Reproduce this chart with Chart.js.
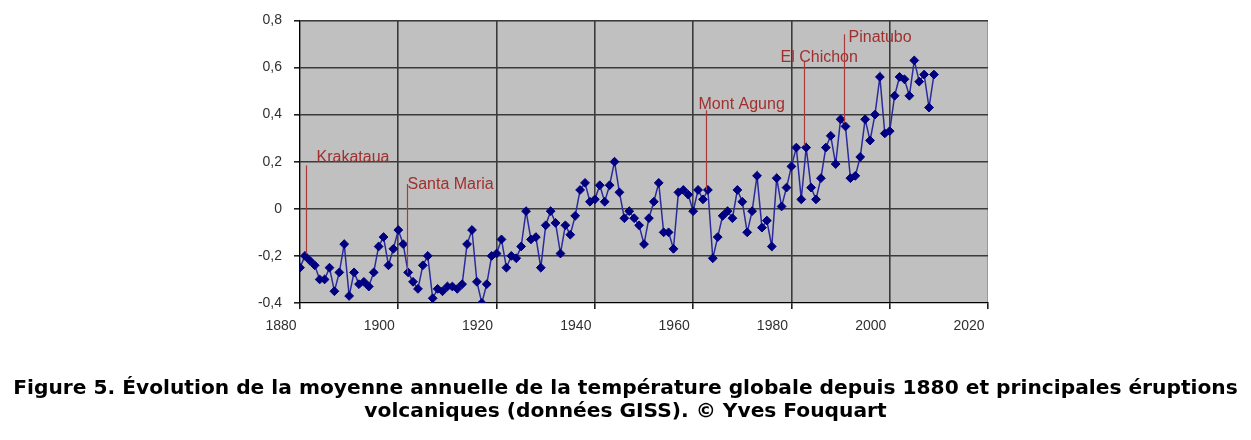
<!DOCTYPE html>
<html>
<head>
<meta charset="utf-8">
<script src="https://cdn.jsdelivr.net/npm/chart.js@4"></script>
<style>
  html, body { margin: 0; padding: 0; background: #ffffff; }
  #wrap { position: relative; width: 1251px; height: 440px; overflow: hidden; }
  #c { position: absolute; left: 0; top: 0; }
  #caption {
    position: absolute; left: 0; top: 376px; width: 1251px;
    text-align: center; font-family: "DejaVu Sans", Verdana, sans-serif;
    font-weight: bold; font-size: 20.2px; line-height: 23px; color: #000;
    white-space: nowrap;
  }
</style>
</head>
<body>
<div id="wrap">
  <canvas id="c" width="1251" height="440"></canvas>
  <div id="caption">Figure 5. Évolution de la moyenne annuelle de la température globale depuis 1880 et principales éruptions<br>volcaniques (données GISS). © Yves Fouquart</div>
</div>
<script>
// ---- data ----
const years = [];
for (let y = 1880; y <= 2009; y++) years.push(y);

const anomalies = [
  -0.25, -0.20, -0.22, -0.24, -0.30, -0.30, -0.25, -0.35, -0.27, -0.15,
  -0.37, -0.27, -0.32, -0.31, -0.33, -0.27, -0.16, -0.12, -0.24, -0.17,
  -0.09, -0.15, -0.27, -0.31, -0.34, -0.24, -0.20, -0.38, -0.34, -0.35,
  -0.33, -0.33, -0.34, -0.32, -0.15, -0.09, -0.31, -0.40, -0.32, -0.20,
  -0.19, -0.13, -0.25, -0.20, -0.21, -0.16, -0.01, -0.13, -0.12, -0.25,
  -0.07, -0.01, -0.06, -0.19, -0.07, -0.11, -0.03,  0.08,  0.11,  0.03,
   0.04,  0.10,  0.03,  0.10,  0.20,  0.07, -0.04, -0.01, -0.04, -0.07,
  -0.15, -0.04,  0.03,  0.11, -0.10, -0.10, -0.17,  0.07,  0.08,  0.06,
  -0.01,  0.08,  0.04,  0.08, -0.21, -0.12, -0.03, -0.01, -0.04,  0.08,
   0.03, -0.10, -0.01,  0.14, -0.08, -0.05, -0.16,  0.13,  0.01,  0.09,
   0.18,  0.26,  0.04,  0.26,  0.09,  0.04,  0.13,  0.26,  0.31,  0.19,
   0.38,  0.35,  0.13,  0.14,  0.22,  0.38,  0.29,  0.40,  0.56,  0.32,
   0.33,  0.48,  0.56,  0.55,  0.48,  0.63,  0.54,  0.57,  0.43,  0.57
];

const xTicks = [1880, 1900, 1920, 1940, 1960, 1980, 2000, 2020];
const yTicks = [-0.4, -0.2, 0, 0.2, 0.4, 0.6, 0.8];

// volcanic eruptions (annotation lines)
const volcanoNames  = ["Krakataua", "Santa Maria", "Mont Agung", "El Chichon", "Pinatubo"];
const volcanoYears  = [1881.2, 1901.8, 1962.7, 1982.5, 1990.6];
const volcanoTops   = [0.184, 0.105, 0.418, 0.628, 0.741];
const volcanoBottoms= [-0.192, -0.272, 0.08, 0.268, 0.364];

// ---- styles (label placement relative to line) ----
const labelDx = [10, 0, -8, -24, 4];
const labelDy = [-8, 1, -6, -3, 3];

const points = years.map((y, i) => ({ x: y, y: anomalies[i] }));

const plotBg = {
  id: 'plotBg',
  beforeDraw(chart) {
    const { ctx, chartArea: a } = chart;
    ctx.save();
    ctx.fillStyle = '#c0c0c0';
    ctx.fillRect(a.left, a.top, a.right - a.left, a.bottom - a.top);
    ctx.strokeStyle = '#9a9a9a';
    ctx.lineWidth = 1;
    ctx.strokeRect(a.left + 0.5, a.top + 0.5, a.right - a.left - 1, a.bottom - a.top - 1);
    ctx.restore();
  }
};

const volcanoes = {
  id: 'volcanoes',
  afterDatasetsDraw(chart) {
    const { ctx, scales: { x, y } } = chart;
    ctx.save();
    ctx.strokeStyle = '#a83a3a';
    ctx.lineWidth = 1.2;
    ctx.fillStyle = '#a0302e';
    ctx.font = '16px "Liberation Sans", Arial, sans-serif';
    ctx.textBaseline = 'middle';
    ctx.textAlign = 'left';
    volcanoNames.forEach((name, i) => {
      const px = Math.round(x.getPixelForValue(volcanoYears[i])) + 0.5;
      const pt = y.getPixelForValue(volcanoTops[i]);
      const pb = y.getPixelForValue(volcanoBottoms[i]);
      ctx.beginPath();
      ctx.moveTo(px, pt);
      ctx.lineTo(px, pb);
      ctx.stroke();
      ctx.fillText(name, px + labelDx[i], pt + labelDy[i]);
    });
    ctx.restore();
  }
};

new Chart(document.getElementById('c'), {
  type: 'line',
  data: {
    datasets: [{
      data: points,
      borderColor: '#2a2a9c',
      borderWidth: 1.5,
      backgroundColor: '#000080',
      pointBackgroundColor: '#000080',
      pointBorderColor: '#000080',
      pointStyle: 'rectRot',
      pointRadius: 4.4,
      pointBorderWidth: 1,
      tension: 0,
      fill: false
    }]
  },
  options: {
    responsive: false,
    animation: false,
    events: [],
    layout: { padding: { left: 240, right: 263, top: 16, bottom: 97 } },
    plugins: { legend: { display: false }, tooltip: { enabled: false }, title: { display: false } },
    scales: {
      x: {
        type: 'linear',
        min: 1880, max: 2020,
        afterBuildTicks(scale) { scale.ticks = xTicks.map(v => ({ value: v })); },
        afterFit(scale) { scale.height = 40; },
        ticks: {
          color: '#303030',
          font: { family: '"Liberation Sans", Arial, sans-serif', size: 14 },
          padding: 9,
          labelOffset: -19,
          maxRotation: 0,
          autoSkip: false,
          callback: v => String(v)
        },
        grid: {
          color: ctx => (ctx.tick && (ctx.tick.value === 1880 || ctx.tick.value === 2020)) ? 'rgba(0,0,0,0)' : '#3a3a3a',
          lineWidth: 1.6,
          tickLength: 6,
          tickColor: '#202020',
          drawTicks: true
        },
        border: { color: '#000000', width: 1.2 }
      },
      y: {
        type: 'linear',
        min: -0.4, max: 0.8,
        afterBuildTicks(scale) { scale.ticks = yTicks.map(v => ({ value: v })); },
        afterFit(scale) { scale.width = 60; },
        ticks: {
          color: '#303030',
          font: { family: '"Liberation Sans", Arial, sans-serif', size: 14 },
          padding: 12,
          autoSkip: false,
          callback: v => Math.abs(v) < 1e-9 ? '0' : v.toFixed(1).replace('.', ',')
        },
        grid: {
          color: ctx => (ctx.tick && Math.abs(ctx.tick.value + 0.4) < 1e-9) ? 'rgba(0,0,0,0)' : '#3a3a3a',
          lineWidth: 1.6,
          tickLength: 6,
          tickColor: '#202020'
        },
        border: { color: '#000000', width: 1.2 }
      }
    }
  },
  plugins: [plotBg, volcanoes]
});
</script>
</body>
</html>
